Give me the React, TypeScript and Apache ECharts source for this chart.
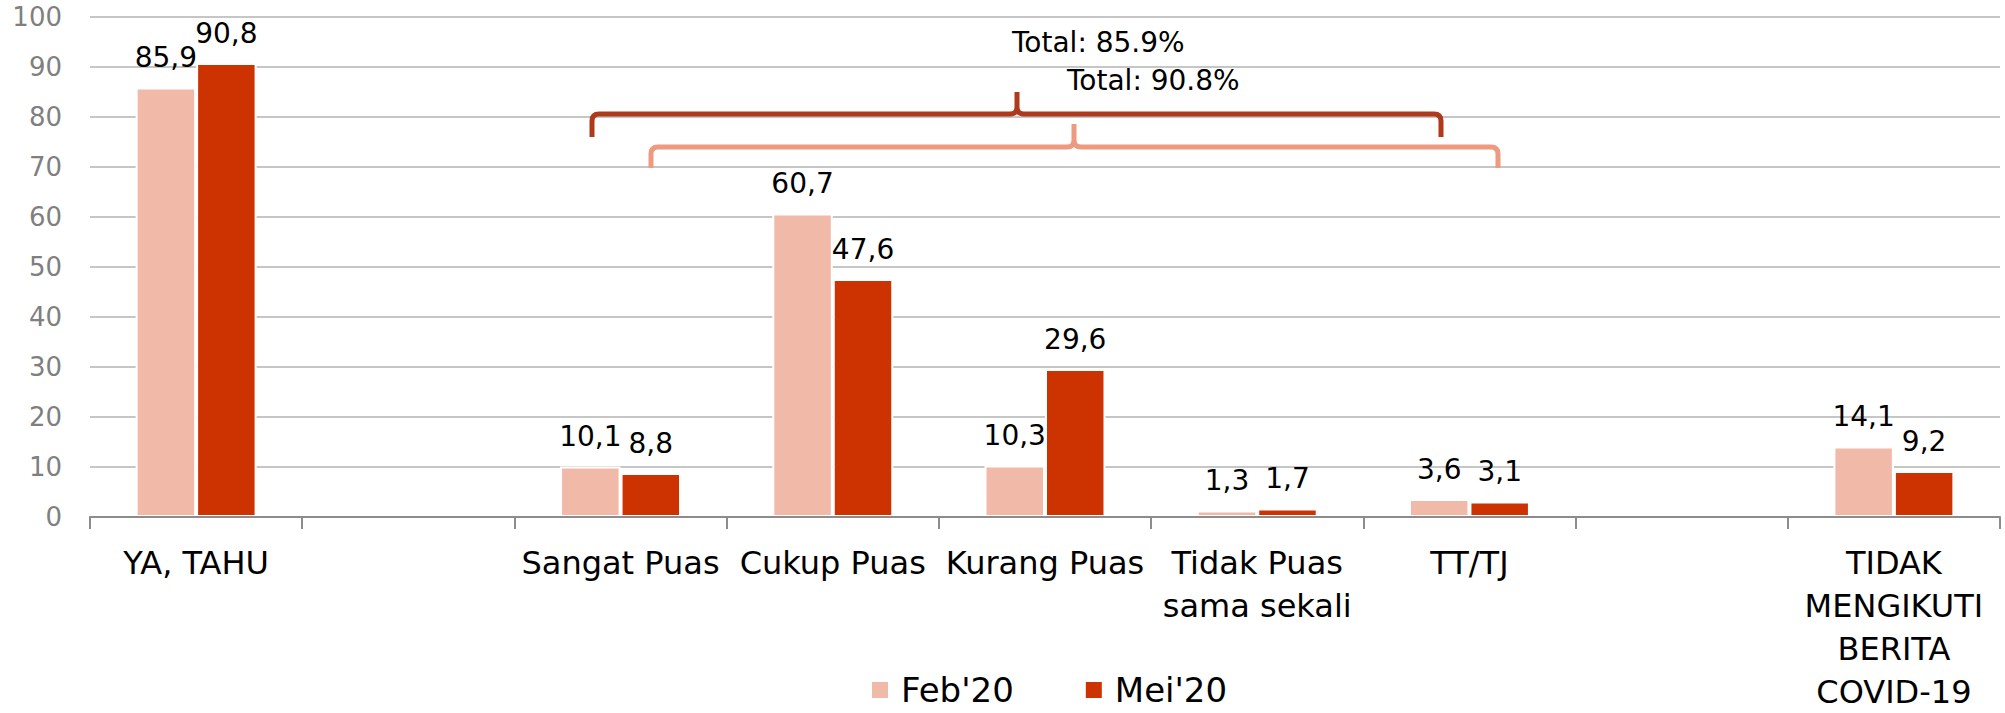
import React, { useEffect, useRef } from "react";
import * as echarts from "echarts";

const categories = [
  "YA, TAHU",
  "",
  "Sangat Puas",
  "Cukup Puas",
  "Kurang Puas",
  "Tidak Puas\nsama sekali",
  "TT/TJ",
  "",
  "TIDAK\nMENGIKUTI\nBERITA\nCOVID-19",
];
const seriesNames = ["Feb'20", "Mei'20"];
const febValues = [85.9, null, 10.1, 60.7, 10.3, 1.3, 3.6, null, 14.1];
const meiValues = [90.8, null, 8.8, 47.6, 29.6, 1.7, 3.1, null, 9.2];
const totalLabels = ["Total: 85.9%", "Total: 90.8%"];

const FONT = "'DejaVu Sans', sans-serif";
const FEB_COLOR = "#F1B9A8";
const MEI_COLOR = "#CC3300";
const BRACE_DARK = "#AE3A1B";
const BRACE_LIGHT = "#EE9A80";

function bracePath(x1: number, x2: number, px: number, y: number, top: number, bottom: number, r = 7) {
  return (
    `M${x1} ${bottom} L${x1} ${y + r} Q${x1} ${y} ${x1 + r} ${y} L${px - r} ${y} Q${px} ${y} ${px} ${y - r} L${px} ${top} ` +
    `M${px} ${y - r} Q${px} ${y} ${px + r} ${y} L${x2 - r} ${y} Q${x2} ${y} ${x2} ${y + r} L${x2} ${bottom}`
  );
}

echarts.graphic.registerShape(
  "braceDark",
  echarts.graphic.extendPath(bracePath(592, 1441, 1017, 114, 92, 137), {})
);
echarts.graphic.registerShape(
  "braceLight",
  echarts.graphic.extendPath(bracePath(651, 1498, 1074, 147, 124, 168), {})
);

const fmt = (p: any) =>
  p.value == null ? "" : Number(p.value).toFixed(1).replace(".", ",");

export default function App() {
  const ref = useRef<HTMLDivElement>(null);
  useEffect(() => {
    if (!ref.current) return;
    const chart = echarts.init(ref.current, null, { renderer: "svg" });
    const barCommon = {
      type: "bar",
      barWidth: "28.5%",
      barGap: "0%",
      label: {
        show: true,
        position: "top",
        distance: 16,
        fontSize: 28,
        fontFamily: FONT,
        color: "#000",
        formatter: fmt,
      },
    };
    chart.setOption({
      animation: false,
      textStyle: { fontFamily: FONT },
      grid: { left: 90, right: 5, top: 17, bottom: 188, containLabel: false },
      legend: {
        data: seriesNames,
        left: 865,
        top: 668,
        icon: "rect",
        itemWidth: 18,
        itemHeight: 18,
        itemGap: 70,
        textStyle: { fontSize: 34, color: "#000", fontFamily: FONT, padding: [0, 0, 0, 7] },
      },
      xAxis: {
        type: "category",
        data: categories,
        z: 5,
        axisLine: { show: true, lineStyle: { color: "#8C8C8C", width: 2 } },
        axisTick: { show: true, length: 12, lineStyle: { color: "#8C8C8C", width: 2 } },
        axisLabel: {
          interval: 0,
          fontSize: 32,
          lineHeight: 43,
          color: "#000",
          margin: 24,
          fontFamily: FONT,
        },
        splitLine: { show: false },
      },
      yAxis: {
        type: "value",
        min: 0,
        max: 100,
        interval: 10,
        axisLine: { show: false },
        axisTick: { show: false },
        axisLabel: { fontSize: 26, color: "#7F7F7F", margin: 28, fontFamily: FONT },
        splitLine: { lineStyle: { color: "#C6C6C6", width: 2 } },
      },
      series: [
        {
          ...barCommon,
          name: seriesNames[0],
          data: febValues,
          itemStyle: { color: FEB_COLOR, borderColor: "#fff", borderWidth: 2 },
        },
        {
          ...barCommon,
          name: seriesNames[1],
          data: meiValues,
          itemStyle: { color: MEI_COLOR, borderColor: "#fff", borderWidth: 2 },
        },
      ],
      graphic: [
        {
          type: "braceDark",
          x: 0,
          y: 0,
          z: 10,
          style: { stroke: BRACE_DARK, lineWidth: 5, fill: "none" },
        },
        {
          type: "braceLight",
          x: 0,
          y: 0,
          z: 10,
          style: { stroke: BRACE_LIGHT, lineWidth: 5, fill: "none" },
        },
        {
          type: "text",
          x: 1012,
          y: 42,
          z: 11,
          style: {
            text: totalLabels[0],
            fontSize: 28,
            fontFamily: FONT,
            fill: "#000",
            verticalAlign: "middle",
          },
        },
        {
          type: "text",
          x: 1067,
          y: 80,
          z: 11,
          style: {
            text: totalLabels[1],
            fontSize: 28,
            fontFamily: FONT,
            fill: "#000",
            verticalAlign: "middle",
          },
        },
      ],
    });
    return () => chart.dispose();
  }, []);
  return (
    <div
      ref={ref}
      style={{ position: "fixed", left: 0, top: 0, width: 2005, height: 713, background: "#fff" }}
    />
  );
}
